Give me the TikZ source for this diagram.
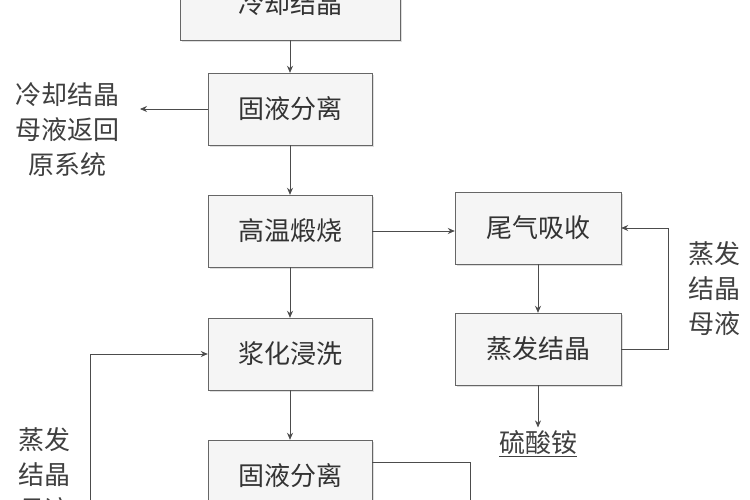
\documentclass[tikz,border=0pt]{standalone}
\usepackage{fontspec}
\setmainfont{Noto Sans CJK SC}
\usetikzlibrary{shadows,arrows.meta}
\begin{document}
\begin{tikzpicture}[x=1pt,y=-1pt,
  box/.style={draw=black!60,fill=black!4,minimum width=164pt,minimum height=72pt,font=\fontsize{26}{28}\selectfont,text=black!80,drop shadow={shadow xshift=2pt,shadow yshift=-2pt,fill=black!25}},
  lab/.style={font=\fontsize{26}{35}\selectfont,align=center,text=black!75},
  ar/.style={draw=black!70,line width=0.8pt,-{Stealth[length=7pt,width=6pt]}},
  ln/.style={draw=black!70,line width=0.8pt}]
\useasboundingbox (0,0) rectangle (750,500);
\fill[white] (0,0) rectangle (750,500);
\node[box,minimum width=220pt] (lq) at (290,4) {冷却结晶};
\node[box] (s1) at (290,109) {固液分离};
\node[box] (gw) at (290,231) {高温煅烧};
\node[box] (jh) at (290,354) {浆化浸洗};
\node[box] (s2) at (290,476) {固液分离};
\node[box,minimum width=166pt] (wq) at (538,228) {尾气吸收};
\node[box,minimum width=166pt] (zf) at (538,349) {蒸发结晶};
\node[lab] (la) at (68,130) {冷却结晶\\母液返回\\原系统};
\node[lab] (ra) at (714,289) {蒸发\\结晶\\母液};
\node[lab] (lb) at (44,475) {蒸发\\结晶\\母液};
\node[lab] (ls) at (538,444) {\underline{硫酸铵}};
\coordinate (rl) at (668,349);
\coordinate (bl) at (90,520);
\coordinate (bd) at (470,520);
\draw[ar] (lq) -- (s1);
\draw[ar] (s1) -- (gw);
\draw[ar] (gw) -- (jh);
\draw[ar] (jh) -- (s2);
\draw[ar] (s1.west) -- (140,109);
\draw[ar] (gw.east) -- (wq.west|-gw.east);
\draw[ar] (wq) -- (zf);
\draw[ar] (zf) -- (ls.north);
\draw[ar] (zf.east) -- (rl) |- (wq.east);
\draw[ar] (bl) |- (jh.west);
\draw[ln] (s2.east |- 0,462) -| (bd);
\end{tikzpicture}
\end{document}
